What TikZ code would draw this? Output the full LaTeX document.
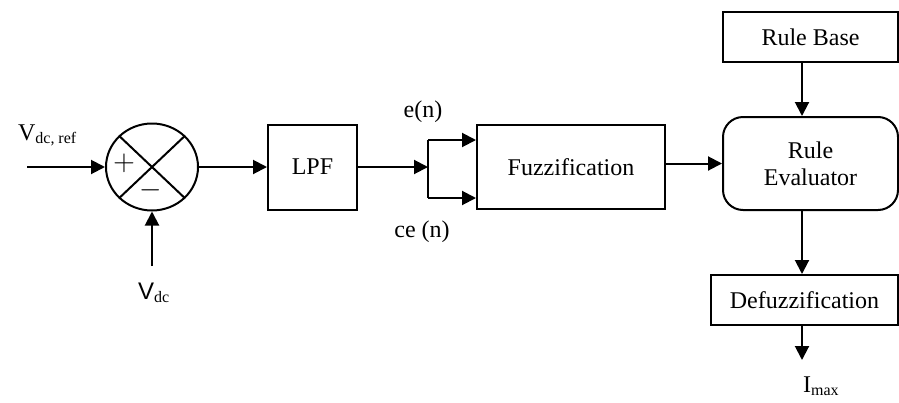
\documentclass[tikz,border=0pt]{standalone}
\usepackage{fontspec}
\setmainfont{Liberation Serif}
\newfontfamily\arialfont{Liberation Sans}
\usetikzlibrary{positioning, arrows.meta, shapes.geometric}

\begin{document}
\begin{tikzpicture}[
    x=0.5pt, y=-0.5pt,
    font=\fontsize{12}{13.5}\selectfont,
    block/.style={
        draw,
        line width=1pt,
        inner sep=0pt
    },
    sumnode/.style={
        ellipse,
        draw,
        line width=1pt,
        inner sep=0pt,
        minimum width=46pt,
        minimum height=43.5pt
    },
    sign/.style={font=\fontsize{15}{15}\selectfont},
    arrow/.style={-{Triangle[length=7pt, width=7pt]}, line width=1pt}
]
\useasboundingbox (0,0) rectangle (899,402);

% summing junction
\node[sumnode] (sum) at (152,167) {};
\draw[line width=1pt] (sum.north west) -- (sum.south east);
\draw[line width=1pt] (sum.north east) -- (sum.south west);
\node[sign] (plus) at (124,163) {$+$};
\node[sign] (minus) at (151,190) {$-$};

\node[block, minimum width=44.5pt, minimum height=42.5pt] (lpf) at (312.5,167) {LPF};
\node[block, minimum width=94pt, minimum height=42pt] (fuzz) at (571,167) {Fuzzification};
\node[block, minimum width=87.5pt, minimum height=25pt] (rb) at (810.5,37) {Rule Base};
\node[block, rounded corners=10pt, minimum width=87.5pt, minimum height=46.5pt,
      align=center] (re) at (810.5,163.5) {Rule\\Evaluator};
\node[block, minimum width=93.5pt, minimum height=25pt] (defuzz) at (804.5,300) {Defuzzification};

% labels
\node[anchor=base west] (vref) at (11,140) {V\textsubscript{dc, ref}};
\node[anchor=base west] (vdc) at (131,299) {{\arialfont V}\textsubscript{dc}};
\node[anchor=base] (en) at (423,117) {e(n)};
\node[anchor=base] (cen) at (422,237) {ce (n)};
\node[anchor=base west] (imax) at (796,392) {I\textsubscript{max}};

% connectors
\coordinate (in) at (27,167);
\coordinate (fb) at (152,266);
\coordinate (split) at (428,167);
\coordinate (eup) at (428,140);
\coordinate (edn) at (428,198);
\coordinate (out) at (802,360);

\draw[arrow] (in) -- (sum.west);
\draw[arrow] (fb) -- (sum.south);
\draw[arrow] (sum.east) -- (lpf.west);
\draw[arrow] (lpf.east) -- (split);
\draw[line width=1pt] (eup) -- (edn);
\draw[arrow] (eup) -- (eup -| fuzz.west);
\draw[arrow] (edn) -- (edn -| fuzz.west);
\draw[arrow] (fuzz.east |- re.west) -- (re.west);
\draw[arrow] (rb.south -| out) -- (re.north -| out);
\draw[arrow] (re.south -| out) -- (defuzz.north -| out);
\draw[arrow] (defuzz.south -| out) -- (out);

\end{tikzpicture}
\end{document}
